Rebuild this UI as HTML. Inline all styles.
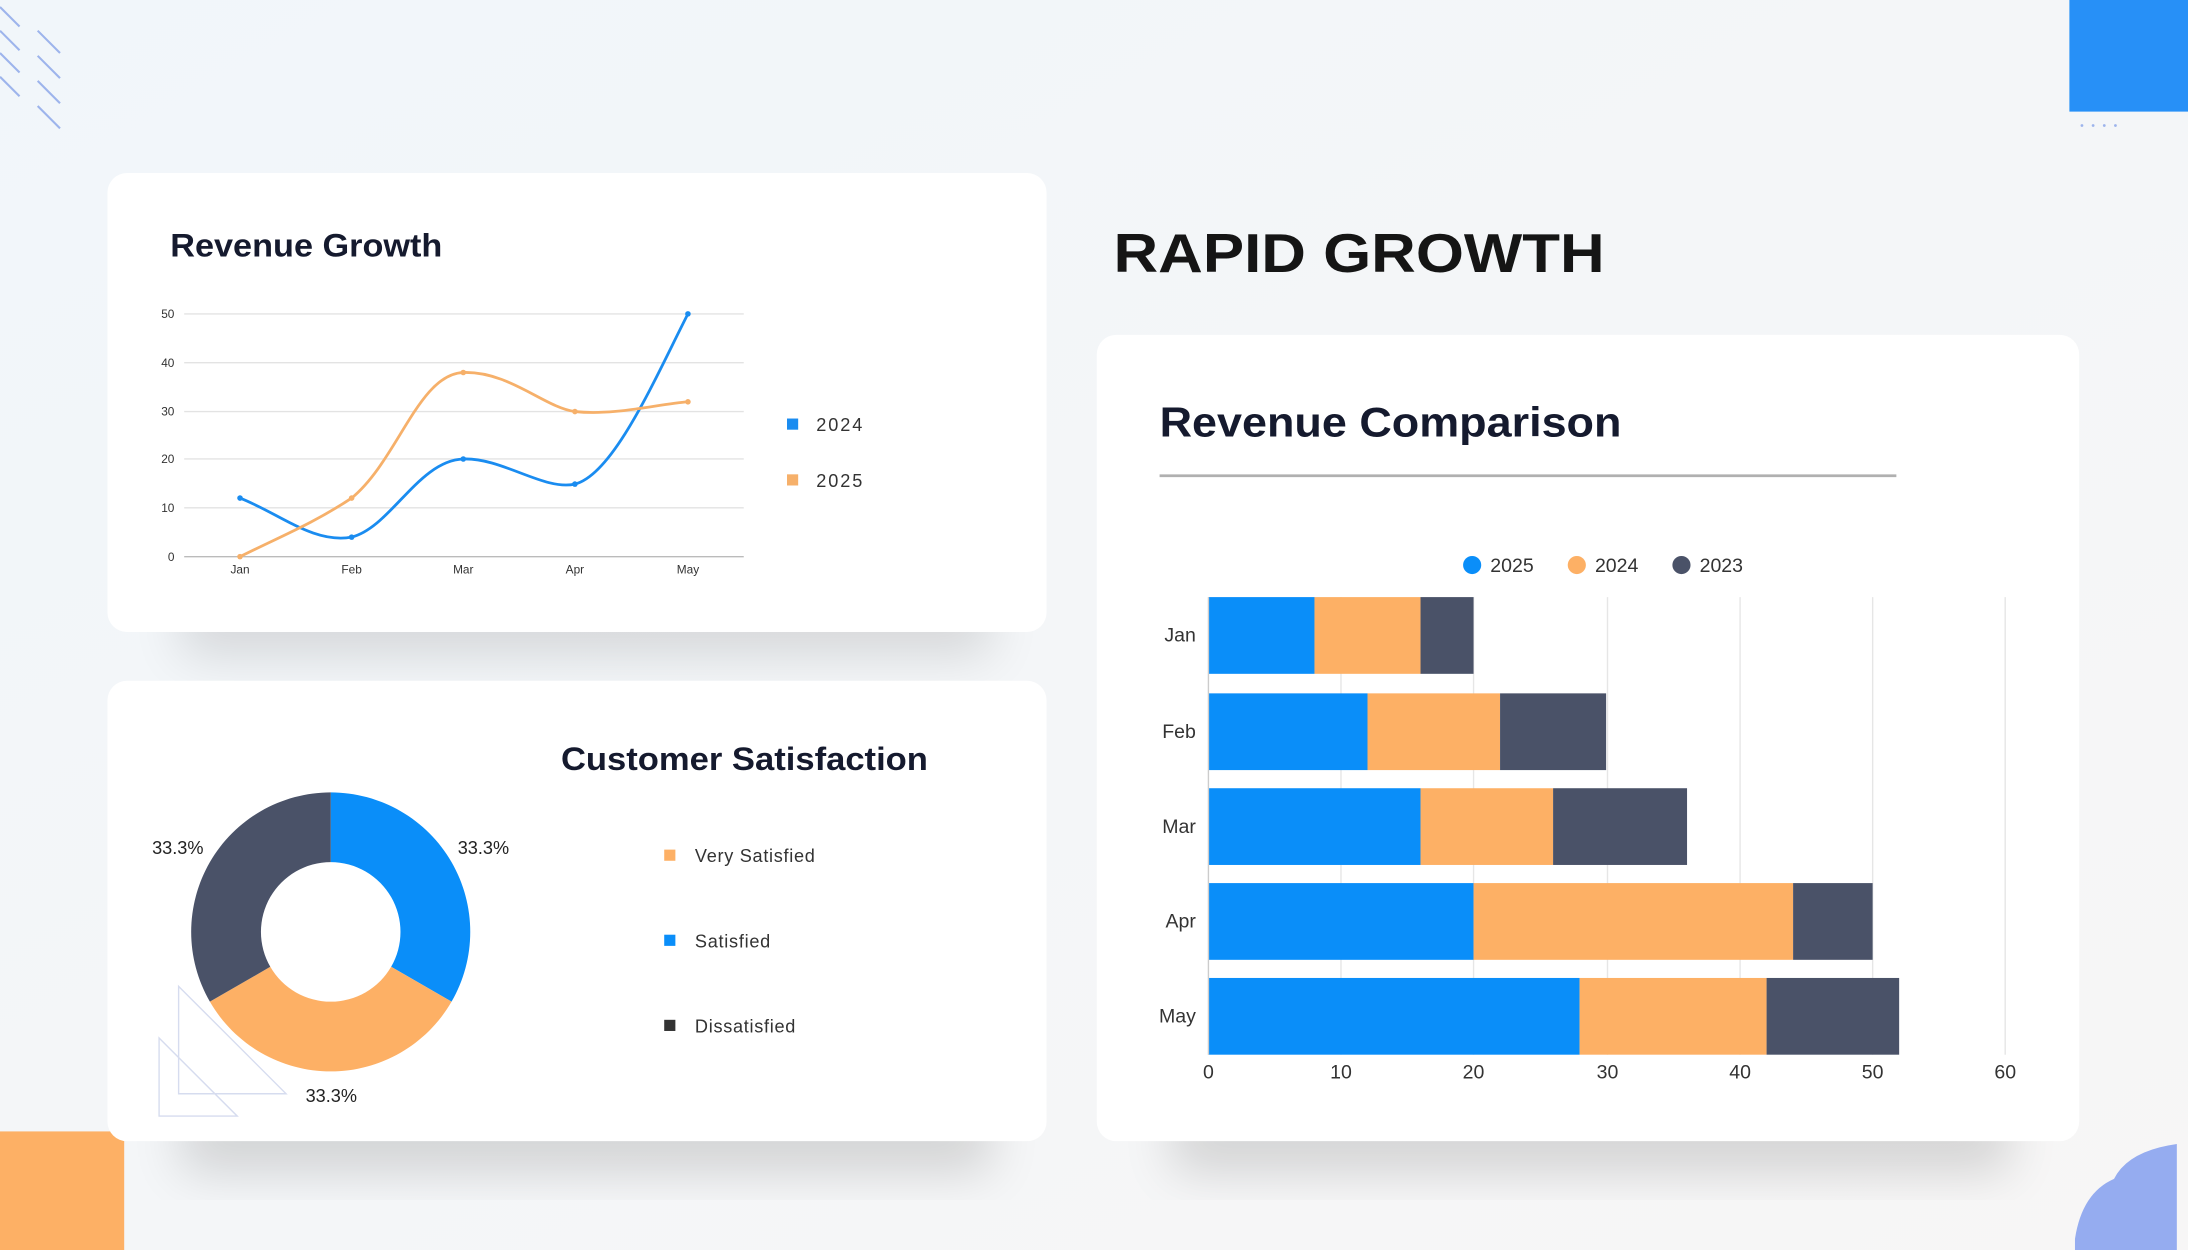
<!DOCTYPE html>
<html><head><meta charset="utf-8"><style>
html,body{margin:0;padding:0;width:2188px;height:1250px;overflow:hidden;background:#f4f7fa}
svg{display:block}
text{font-family:"Liberation Sans",sans-serif}
</style></head><body>
<svg width="2188" height="1250" viewBox="0 0 1568 896" preserveAspectRatio="none" xmlns="http://www.w3.org/2000/svg">
<defs>
<linearGradient id="bg" x1="0" y1="0" x2="1" y2="1"><stop offset="0" stop-color="#f1f6fa"/><stop offset="1" stop-color="#f7f6f6"/></linearGradient>
<filter id="sh" x="-20%" y="-20%" width="140%" height="160%"><feGaussianBlur stdDeviation="18"/></filter>
</defs>
<rect width="1568" height="896" fill="url(#bg)"/>
<g stroke="#9db4ec" stroke-width="1.5">
<line x1="0" y1="5" x2="14" y2="19"/><line x1="0" y1="22" x2="14" y2="36"/><line x1="0" y1="38" x2="14" y2="52"/><line x1="0" y1="55" x2="14" y2="69"/>
<line x1="27" y1="22" x2="43" y2="38"/><line x1="27" y1="40" x2="43" y2="56"/><line x1="27" y1="58" x2="43" y2="74"/><line x1="27" y1="76" x2="43" y2="92"/>
</g>
<rect x="1483" y="0" width="85" height="80" fill="#2790f7"/>
<g fill="#9db4ec"><circle cx="1492" cy="90" r="1"/><circle cx="1500" cy="90" r="1"/><circle cx="1508" cy="90" r="1"/><circle cx="1516" cy="90" r="1"/></g>
<rect x="0" y="811" width="89" height="85" fill="#fdb065"/>
<path d="M1487,888 Q1492,855 1515,845 Q1525,825 1560,820 L1560,896 L1487,896Z" fill="#95acf0"/>
<rect x="130" y="420" width="580" height="50" fill="#000" opacity="0.12" filter="url(#sh)"/>
<rect x="130" y="790" width="580" height="50" fill="#000" opacity="0.14" filter="url(#sh)"/>
<rect x="840" y="790" width="600" height="50" fill="#000" opacity="0.14" filter="url(#sh)"/>
<rect x="77" y="124" width="673" height="329" rx="14" fill="#fff"/>
<rect x="77" y="488" width="673" height="330" rx="14" fill="#fff"/>
<rect x="786" y="240" width="704" height="578" rx="14" fill="#fff"/>
<text x="798" y="195" font-size="39" font-weight="bold" fill="#151515" textLength="352" lengthAdjust="spacingAndGlyphs">RAPID GROWTH</text>
<text x="122" y="184" font-size="23" font-weight="bold" fill="#151a2e" textLength="195" lengthAdjust="spacingAndGlyphs">Revenue Growth</text>
<g stroke="#e3e3e3" stroke-width="1">
<line x1="132" y1="225" x2="533" y2="225"/><line x1="132" y1="260" x2="533" y2="260"/><line x1="132" y1="295" x2="533" y2="295"/><line x1="132" y1="329" x2="533" y2="329"/><line x1="132" y1="364" x2="533" y2="364"/><line x1="132" y1="399" x2="533" y2="399" stroke="#bbb"/>
</g>
<g font-size="8.5" fill="#333" text-anchor="end">
<text x="125" y="228">50</text><text x="125" y="263">40</text><text x="125" y="298">30</text><text x="125" y="332">20</text><text x="125" y="367">10</text><text x="125" y="402">0</text>
</g>
<g font-size="8.5" fill="#333" text-anchor="middle">
<text x="172" y="411">Jan</text><text x="252" y="411">Feb</text><text x="332" y="411">Mar</text><text x="412" y="411">Apr</text><text x="493" y="411">May</text>
</g>
<path d="M172,357 C200,368 225,390 252,385 C280,378 300,330 332,329 C360,328 390,352 412,347 C440,340 470,270 493,225" fill="none" stroke="#1a8cf0" stroke-width="2"/>
<path d="M172,399 C200,385 225,375 252,357 C285,330 300,268 332,267 C365,266 390,292 412,295 C440,298 470,290 493,288" fill="none" stroke="#f6b06a" stroke-width="2"/>
<g fill="#1a8cf0"><circle cx="172" cy="357" r="2"/><circle cx="252" cy="385" r="2"/><circle cx="332" cy="329" r="2"/><circle cx="412" cy="347" r="2"/><circle cx="493" cy="225" r="2"/></g>
<g fill="#f6b06a"><circle cx="172" cy="399" r="2"/><circle cx="252" cy="357" r="2"/><circle cx="332" cy="267" r="2"/><circle cx="412" cy="295" r="2"/><circle cx="493" cy="288" r="2"/></g>
<rect x="564" y="300" width="8" height="8" fill="#1a8cf0"/><text x="585" y="309" font-size="13" fill="#333" textLength="33">2024</text>
<rect x="564" y="340" width="8" height="8" fill="#f6b06a"/><text x="585" y="349" font-size="13" fill="#333" textLength="33">2025</text>
<text x="402" y="552" font-size="23" font-weight="bold" fill="#151a2e" textLength="263" lengthAdjust="spacingAndGlyphs">Customer Satisfaction</text>
<path d="M237,568 A100,100 0 0 1 323.6,718 L280.3,693 A50,50 0 0 0 237,618Z" fill="#0a8ef9"/>
<path d="M323.6,718 A100,100 0 0 1 150.4,718 L193.7,693 A50,50 0 0 0 280.3,693Z" fill="#fdb065"/>
<path d="M150.4,718 A100,100 0 0 1 237,568 L237,618 A50,50 0 0 0 193.7,693Z" fill="#4a5268"/>
<g fill="none" stroke="#d6dcef" stroke-width="1"><path d="M128,707 L205,784 L128,784Z"/><path d="M114,744 L170,800 L114,800Z"/></g>
<g font-size="13" fill="#222"><text x="109" y="612">33.3%</text><text x="328" y="612">33.3%</text><text x="219" y="790">33.3%</text></g>
<rect x="476" y="609" width="8" height="8" fill="#fdb065"/><text x="498" y="618" font-size="13" fill="#333" textLength="86">Very Satisfied</text>
<rect x="476" y="670" width="8" height="8" fill="#0a8ef9"/><text x="498" y="679" font-size="13" fill="#333" textLength="54">Satisfied</text>
<rect x="476" y="731" width="8" height="8" fill="#333"/><text x="498" y="740" font-size="13" fill="#333" textLength="72">Dissatisfied</text>
<text x="831" y="313" font-size="30" font-weight="bold" fill="#151a2e" textLength="331" lengthAdjust="spacingAndGlyphs">Revenue Comparison</text>
<line x1="831" y1="341" x2="1359" y2="341" stroke="#b0b0b0" stroke-width="2"/>
<circle cx="1055" cy="405" r="6.5" fill="#0a8ef9"/><text x="1068" y="410" font-size="14" fill="#333">2025</text>
<circle cx="1130" cy="405" r="6.5" fill="#fdb065"/><text x="1143" y="410" font-size="14" fill="#333">2024</text>
<circle cx="1205" cy="405" r="6.5" fill="#4a5268"/><text x="1218" y="410" font-size="14" fill="#333">2023</text>
<g stroke="#e6e6e6" stroke-width="1">
<line x1="961" y1="428" x2="961" y2="756"/><line x1="1056" y1="428" x2="1056" y2="756"/><line x1="1152" y1="428" x2="1152" y2="756"/><line x1="1247" y1="428" x2="1247" y2="756"/><line x1="1342" y1="428" x2="1342" y2="756"/><line x1="1437" y1="428" x2="1437" y2="756"/>
</g>
<g>
<rect x="866" y="428" width="76" height="55" fill="#0a8ef9"/><rect x="942" y="428" width="76" height="55" fill="#fdb065"/><rect x="1018" y="428" width="38" height="55" fill="#4a5268"/>
<rect x="866" y="497" width="114" height="55" fill="#0a8ef9"/><rect x="980" y="497" width="95" height="55" fill="#fdb065"/><rect x="1075" y="497" width="76" height="55" fill="#4a5268"/>
<rect x="866" y="565" width="152" height="55" fill="#0a8ef9"/><rect x="1018" y="565" width="95" height="55" fill="#fdb065"/><rect x="1113" y="565" width="96" height="55" fill="#4a5268"/>
<rect x="866" y="633" width="190" height="55" fill="#0a8ef9"/><rect x="1056" y="633" width="229" height="55" fill="#fdb065"/><rect x="1285" y="633" width="57" height="55" fill="#4a5268"/>
<rect x="866" y="701" width="266" height="55" fill="#0a8ef9"/><rect x="1132" y="701" width="134" height="55" fill="#fdb065"/><rect x="1266" y="701" width="95" height="55" fill="#4a5268"/>
</g>
<line x1="866" y1="428" x2="866" y2="756" stroke="#ccc"/>
<g font-size="14" fill="#333" text-anchor="end">
<text x="857" y="460">Jan</text><text x="857" y="529">Feb</text><text x="857" y="597">Mar</text><text x="857" y="665">Apr</text><text x="857" y="733">May</text>
</g>
<g font-size="14" fill="#333" text-anchor="middle">
<text x="866" y="773">0</text><text x="961" y="773">10</text><text x="1056" y="773">20</text><text x="1152" y="773">30</text><text x="1247" y="773">40</text><text x="1342" y="773">50</text><text x="1437" y="773">60</text>
</g>
</svg>
</body></html>
